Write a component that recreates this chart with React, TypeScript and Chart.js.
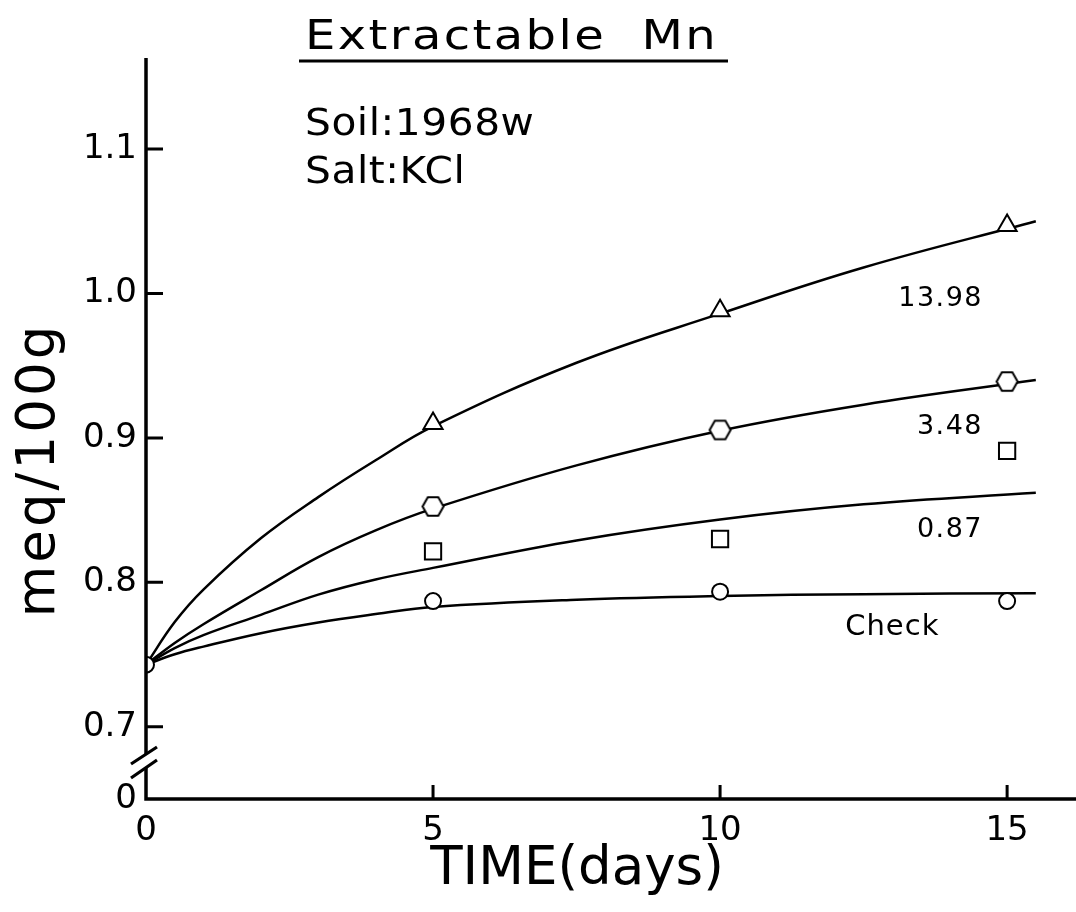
import React, { useEffect, useRef } from "react";
import { Chart, registerables } from "chart.js";

Chart.register(...registerables);

const FONT = '"DejaVu Sans", "Liberation Sans", sans-serif';

// Measured extractable Mn (meq/100g) at each sampling day
const sampleDays = [5, 10, 15];
const checkDays = [0, 5, 10, 15];
const mn1398 = [0.91, 0.988, 1.047];
const mn348 = [0.8525, 0.9055, 0.939];
const mn087 = [0.8215, 0.83, 0.891];
const mnCheck = [0.743, 0.787, 0.7935, 0.787];

// Smoothed trend curves for each KCl level
const curveDays = [0, 0.5, 1, 2, 3, 4, 5, 7.5, 10, 12.5, 15.5];
const fit1398 = [0.743, 0.7725, 0.795, 0.8305, 0.859, 0.8845, 0.908, 0.952, 0.986, 1.018, 1.05];
const fit348 = [0.743, 0.758, 0.771, 0.7945, 0.8175, 0.836, 0.851, 0.881, 0.905, 0.923, 0.94];
const fit087 = [0.743, 0.7545, 0.7635, 0.7775, 0.7915, 0.802, 0.81, 0.829, 0.8435, 0.854, 0.862];
const fitCheck = [0.743, 0.7502, 0.7555, 0.7648, 0.7722, 0.778, 0.783, 0.788, 0.7906, 0.7918, 0.7925];

// Axis ticks (the lowest y tick stands for zero below the axis break)
const xTicks = [0, 5, 10, 15];
const yTicks = [0.65, 0.7, 0.8, 0.9, 1.0, 1.1];
const yTickLabels = ["0", "0.7", "0.8", "0.9", "1.0", "1.1"];

// Curve labels
const curveLabels = ["13.98", "3.48", "0.87", "Check"];

const titleText = "Extractable  Mn";
const infoLines = ["Soil:1968w", "Salt:KCl"];
const xTitle = "TIME(days)";
const yTitle = "meq/100g";

function makeHexagon(w: number, h: number, lw: number): HTMLCanvasElement {
  const c = document.createElement("canvas");
  c.width = Math.ceil(w + lw * 2);
  c.height = Math.ceil(h + lw * 2);
  const g = c.getContext("2d")!;
  const cx = c.width / 2;
  const cy = c.height / 2;
  const hw = w / 2;
  const hh = h / 2;
  const q = w / 4;
  g.beginPath();
  g.moveTo(cx - hw, cy);
  g.lineTo(cx - q, cy - hh);
  g.lineTo(cx + q, cy - hh);
  g.lineTo(cx + hw, cy);
  g.lineTo(cx + q, cy + hh);
  g.lineTo(cx - q, cy + hh);
  g.closePath();
  g.fillStyle = "#fff";
  g.fill();
  g.lineWidth = lw;
  g.strokeStyle = "#000";
  g.stroke();
  return c;
}

const toPts = (xs: number[], ys: number[]) => xs.map((x, i) => ({ x, y: ys[i] }));

// Text drawn with a horizontal stretch (wide lettering)
function wideText(ctx: any, text: string, x: number, y: number, sx: number, spacing: number) {
  ctx.save();
  ctx.translate(x, y);
  ctx.scale(sx, 1);
  ctx.letterSpacing = `${spacing}px`;
  ctx.fillText(text, 0, 0);
  ctx.restore();
}

// Axis lines with the zero break, inward ticks, titles and annotations
const decorPlugin = {
  id: "decor",
  afterDatasetsDraw(chart: any) {
    const { ctx, chartArea: a, scales } = chart;
    const xs = scales.x;
    const ys = scales.y;
    const ax = a.left;
    const bottom = a.bottom;
    ctx.save();
    ctx.strokeStyle = "#000";
    ctx.lineCap = "butt";

    // axes
    ctx.lineWidth = 3.5;
    ctx.beginPath();
    ctx.moveTo(ax, a.top);
    ctx.lineTo(ax, bottom - 45);
    ctx.moveTo(ax, bottom - 31);
    ctx.lineTo(ax, bottom + 1.75);
    ctx.moveTo(ax - 1.75, bottom);
    ctx.lineTo(a.right, bottom);
    ctx.stroke();

    // break marks
    ctx.lineWidth = 3.2;
    ctx.beginPath();
    ctx.moveTo(ax - 15, bottom - 35);
    ctx.lineTo(ax + 11, bottom - 52);
    ctx.moveTo(ax - 15, bottom - 21);
    ctx.lineTo(ax + 11, bottom - 39);
    ctx.stroke();

    // inward ticks
    ctx.lineWidth = 3;
    ctx.beginPath();
    yTicks.slice(1).forEach((v) => {
      const py = ys.getPixelForValue(v);
      ctx.moveTo(ax, py);
      ctx.lineTo(ax + 17, py);
    });
    xTicks.slice(1).forEach((v) => {
      const px = xs.getPixelForValue(v);
      ctx.moveTo(px, bottom);
      ctx.lineTo(px, bottom - 14);
    });
    ctx.stroke();

    ctx.fillStyle = "#000";
    ctx.textBaseline = "alphabetic";
    ctx.textAlign = "left";

    // title with underline
    ctx.font = `40px ${FONT}`;
    wideText(ctx, titleText, 305, 49, 1.2, 2);
    ctx.lineWidth = 3;
    ctx.beginPath();
    ctx.moveTo(299, 61);
    ctx.lineTo(728, 61);
    ctx.stroke();

    // soil / salt info
    ctx.font = `37px ${FONT}`;
    wideText(ctx, infoLines[0], 305, 135, 1.1, 0.5);
    wideText(ctx, infoLines[1], 305, 183, 1.1, 0.5);

    // curve labels
    ctx.font = `27px ${FONT}`;
    (ctx as any).letterSpacing = "1.5px";
    ctx.textAlign = "right";
    ctx.fillText(curveLabels[0], xs.getPixelForValue(14.58), ys.getPixelForValue(0.9915));
    ctx.fillText(curveLabels[1], xs.getPixelForValue(14.58), ys.getPixelForValue(0.9025));
    ctx.fillText(curveLabels[2], xs.getPixelForValue(14.58), ys.getPixelForValue(0.8315));
    ctx.font = `29px ${FONT}`;
    (ctx as any).letterSpacing = "1px";
    ctx.textAlign = "left";
    ctx.fillText(curveLabels[3], xs.getPixelForValue(12.18), ys.getPixelForValue(0.7636));

    // axis titles
    (ctx as any).letterSpacing = "0px";
    ctx.font = `53px ${FONT}`;
    ctx.textAlign = "center";
    ctx.textBaseline = "middle";
    ctx.fillText(xTitle, 577, 870);

    ctx.save();
    ctx.translate(40, 470);
    ctx.rotate(-Math.PI / 2);
    ctx.font = `53px ${FONT}`;
    (ctx as any).letterSpacing = "3px";
    ctx.fillText(yTitle, 0, 0);
    ctx.restore();

    ctx.restore();
  },
};

export default function App() {
  const ref = useRef<HTMLCanvasElement | null>(null);

  useEffect(() => {
    if (!ref.current) return;
    const hexagon = makeHexagon(21, 18.5, 2);
    const lineStyle = {
      showLine: true,
      borderColor: "#000",
      borderWidth: 2.5,
      pointRadius: 0,
      tension: 0.4,
      fill: false,
      order: 2,
    };
    const markerStyle = {
      showLine: false,
      borderColor: "#000",
      backgroundColor: "#fff",
      pointBorderWidth: 2,
      clip: false as const,
      order: 1,
    };

    const chart = new Chart(ref.current, {
      type: "scatter",
      data: {
        datasets: [
          { label: "fit 13.98", data: toPts(curveDays, fit1398), ...lineStyle },
          { label: "fit 3.48", data: toPts(curveDays, fit348), ...lineStyle },
          { label: "fit 0.87", data: toPts(curveDays, fit087), ...lineStyle },
          { label: "fit Check", data: toPts(curveDays, fitCheck), ...lineStyle },
          {
            label: "13.98",
            data: toPts(sampleDays, mn1398),
            ...markerStyle,
            pointStyle: "triangle",
            pointRadius: 11,
          },
          {
            label: "3.48",
            data: toPts(sampleDays, mn348),
            ...markerStyle,
            pointStyle: hexagon,
            pointRadius: 11,
          },
          {
            label: "0.87",
            data: toPts(sampleDays, mn087),
            ...markerStyle,
            pointStyle: "rect",
            pointRadius: 11.5,
          },
          {
            label: "Check",
            data: toPts(checkDays, mnCheck),
            ...markerStyle,
            pointStyle: "circle",
            pointRadius: 8,
            clip: { left: 0, top: false, right: false, bottom: false },
          },
        ],
      },
      options: {
        animation: false,
        responsive: false,
        devicePixelRatio: 1,
        layout: { autoPadding: false, padding: { top: 58, left: 0, right: 0, bottom: 0 } },
        plugins: {
          legend: { display: false },
          tooltip: { enabled: false },
          title: { display: false },
        },
        scales: {
          x: {
            type: "linear",
            min: 0,
            max: 16.2,
            afterFit: (s: any) => {
              s.height = 113;
              s.paddingLeft = 0;
              s.paddingRight = 0;
            },
            afterBuildTicks: (s: any) => {
              s.ticks = xTicks.map((v) => ({ value: v }));
            },
            grid: { display: false, drawTicks: false },
            border: { display: false },
            ticks: {
              color: "#000",
              font: { family: FONT, size: 34 },
              padding: 12,
              maxRotation: 0,
              callback: (v: any) => String(v),
            },
          },
          y: {
            type: "linear",
            min: 0.65,
            max: 1.163,
            afterFit: (s: any) => {
              s.width = 146;
              s.paddingTop = 0;
              s.paddingBottom = 0;
            },
            afterBuildTicks: (s: any) => {
              s.ticks = yTicks.map((v) => ({ value: v }));
            },
            grid: { display: false, drawTicks: false },
            border: { display: false },
            ticks: {
              color: "#000",
              font: { family: FONT, size: 34 },
              padding: 9,
              callback: (v: any) => {
                const i = yTicks.findIndex((t) => Math.abs(t - Number(v)) < 1e-6);
                return i >= 0 ? yTickLabels[i] : "";
              },
            },
          },
        },
      },
      plugins: [decorPlugin],
    });
    return () => chart.destroy();
  }, []);

  return (
    <div style={{ position: "absolute", left: 0, top: 0, width: 1076, height: 912, background: "#fff" }}>
      <canvas ref={ref} width={1076} height={912} style={{ display: "block" }} />
    </div>
  );
}
